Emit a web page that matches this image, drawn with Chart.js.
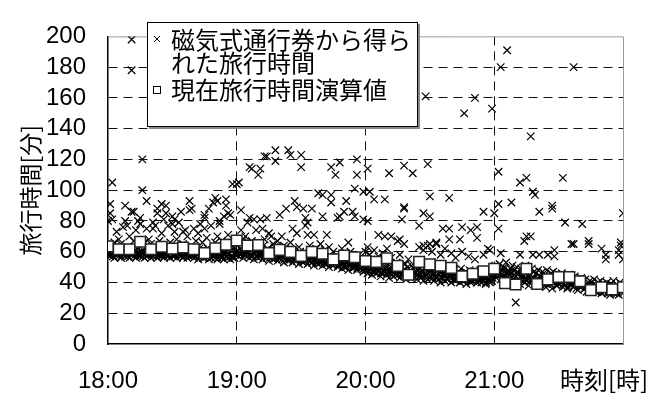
<!DOCTYPE html>
<html lang="ja">
<head>
<meta charset="UTF-8">
<title>旅行時間</title>
<style>
  body { margin: 0; background: #fff; }
  canvas { display: block; }
</style>
</head>
<body>
<canvas id="myChart" width="667" height="394"></canvas>
<script src="https://cdn.jsdelivr.net/npm/chart.js@4/dist/chart.umd.min.js"></script>
<script>
// x = 18:00 からの経過分
const hourTicks = ['18:00', '19:00', '20:00', '21:00', '']

// 現在旅行時間演算値 (5分ごと)
const squareMin = [0,5,10,15,20,25,30,35,40,45,50,55,60,65,70,75,80,85,90,95,100,105,110,115,120,125,130,135,140,145,150,155,160,165,170,175,180,185,190,195,200,205,210,215,220,225,230,235,240]
const squareVal = [63.5,61.6,61.6,66.5,61.6,63.2,62.0,62.7,61.6,59.1,62.3,64.5,
  67.3,64.0,64.4,59.1,61.2,59.9,57.3,59.9,58.7,55.0,57.5,56.4,
  54.0,53.4,55.8,50.8,45.0,53.4,51.8,50.9,49.5,44.0,45.7,47.3,
  48.9,39.6,38.7,48.9,39.0,42.0,43.6,43.6,40.8,35.0,36.9,35.5,36.9]

// 磁気式通行券から得られた旅行時間 — 密な帯 (1分ごと, 3層)
const low18 = [58,57,59,56,58,57,56,58,57,59,56,58,57,56,58,57,59,56,57,58,56,57,59,56,58,57,56,58,57,56,58,57,56,58,57,56,58,56,57,58,56,57,55,57,58,56,57,55,56,58,56,55,57,56,55,57,56,55,57,56]
const bot18 = [59,58,57,60,58,59,57,58,60,57,59,58,60,57,59,58,57,59,58,60,58,59,57,58,60,58,57,59,58,59,57,58,60,59,58,57,59,58,60,57,58,59,57,58,56,59,58,57,59,57,58,56,58,57,59,57,58,57,56,58]
const mid18 = [61,60,62,60,63,61,60,62,61,63,60,62,61,59,62,60,61,63,60,62,61,60,62,59,61,63,60,62,61,60,62,61,59,62,60,61,63,60,62,60,61,59,62,60,61,60,62,59,61,60,62,60,59,61,60,62,59,61,63,60]
const low19 = [58,57,59,56,58,57,56,58,55,57,56,58,55,57,56,54,57,55,56,54,56,55,53,56,54,55,53,55,54,52,54,53,55,52,54,53,51,53,52,54,51,53,52,50,52,51,53,50,52,49,51,50,48,51,49,50,48,50,49,47]
const bot19 = [60,59,61,58,60,59,61,57,59,60,58,57,59,58,60,56,58,57,59,56,58,57,55,58,56,57,55,58,56,57,55,54,57,55,56,53,55,54,56,53,55,52,54,53,55,52,54,51,53,52,50,53,51,52,50,51,49,52,50,49]
const mid19 = [64,62,66,63,61,65,62,64,61,63,60,62,64,60,62,59,61,63,59,61,60,58,62,59,60,58,61,57,59,60,58,56,59,57,58,56,58,55,57,56,58,55,57,54,56,55,57,54,56,53,55,54,56,52,55,53,54,52,54,53]
const low20 = [48,46,49,45,47,46,48,44,46,47,45,43,46,44,45,47,43,45,44,42,45,43,44,46,42,44,43,41,44,42,43,45,41,43,42,40,43,41,42,44,40,42,41,43,40,42,41,39,42,40,41,43,40,42,40,41,39,42,40,41]
const bot20 = [50,48,51,47,49,48,50,46,48,49,47,46,48,47,49,45,47,46,48,45,47,44,46,47,45,46,44,47,45,46,44,43,46,44,45,43,45,44,42,45,43,44,42,45,43,41,44,42,43,41,43,42,44,41,42,43,40,42,41,43]
const mid20 = [53,51,55,50,52,54,51,49,53,50,52,48,51,50,53,49,51,48,52,50,47,51,49,50,48,52,47,49,51,48,50,46,49,48,47,50,46,48,49,47,45,48,46,47,49,45,47,46,48,44,47,46,45,48,44,46,47,45,44,46]
const low21 = [45,43,46,42,44,41,43,45,40,42,44,41,39,43,40,42,38,41,43,39,40,42,38,40,37,41,39,36,40,38,39,41,37,38,36,40,38,37,39,35,37,38,36,34,37,35,36,38,34,36,33,35,37,34,32,35,33,34,32,35,33]
const bot21 = [48,46,47,45,48,44,46,47,43,45,46,42,44,45,43,41,44,42,43,40,42,44,41,42,39,43,41,40,42,38,41,40,39,41,37,39,40,38,36,39,37,38,36,38,35,37,36,34,37,35,36,34,36,33,35,34,36,33,35,34,36]
const mid21 = [51,49,52,48,50,53,47,49,51,48,50,46,49,47,51,48,45,49,47,46,48,44,47,45,48,43,46,47,44,45,43,46,44,42,45,43,41,44,42,40,43,41,42,39,41,40,42,38,40,41,39,37,40,38,39,41,37,38,40,39,37]

// 帯から外れた点 [分, 旅行時間]
const extra18 = [[0,80],[1,91],[1,85],[2,81],[2,105],[4,73],[7,76],[8,90],[8,80],[9,77],[10,70],[11,86],[11,198],[11,178],[12,86],[13,74],[14,80],[15,82],[15,78],[16,120],[16,100],[18,93],[18,75],[19,68],[21,79],[21,75],[22,77],[23,88],[23,85],[25,91],[25,72],[26,81],[27,85],[27,90],[28,77],[30,78],[30,83],[31,81],[31,73],[33,79],[34,86],[35,73],[36,74],[37,70],[38,93],[38,87],[39,88],[40,75],[42,72],[43,78],[45,84],[45,82],[45,75],[47,88],[48,77],[49,92],[50,95],[51,70],[51,93],[52,80],[52,78],[54,83],[55,94],[55,90],[56,85],[56,71],[57,84],[58,66],[58,104],
  [3,66],[5,68],[6,65],[12,67],[17,66],[20,65],[24,67],[29,66],[32,68],[35,65],[41,67],[44,66],[46,69],[50,66],[53,67],[57,65]]
const extra19 = [[60,104],[61,105],[62,87],[62,74],[65,79],[66,82],[66,115],[67,114],[68,81],[69,74],[70,110],[71,81],[71,114],[72,75],[73,122],[74,82],[74,122],[75,72],[76,70],[78,119],[78,126],[80,84],[81,70],[83,88],[84,126],[85,123],[86,75],[87,93],[88,89],[88,72],[90,123],[90,115],[91,88],[92,82],[92,77],[93,79],[93,71],[95,88],[96,71],[98,98],[100,97],[100,83],[102,71],[104,92],[104,97],[104,115],[106,110],[107,82],[108,83],[108,118],[110,86],[111,93],[112,66],[114,86],[115,101],[115,83],[116,120],[116,110],[119,81],[119,99],
  [63,68],[64,70],[67,67],[70,66],[73,68],[77,65],[79,67],[82,64],[85,66],[89,63],[94,64],[97,62],[99,65],[101,61],[103,63],[105,60],[109,62],[113,60],[117,58]]
const extra20 = [[121,114],[122,99],[124,94],[126,71],[129,94],[129,70],[131,111],[132,70],[135,67],[136,68],[137,81],[138,116],[138,89],[138,88],[138,65],[142,111],[145,77],[147,85],[147,64],[149,117],[150,83],[150,96],[150,65],[153,66],[156,75],[159,95],[159,75],[159,68],[164,68],[165,76],[169,74],[172,76],[172,69],[175,86],[177,62],[121,80],[148,161],[166,150],[171,160],[179,153],
  [120,60],[121,63],[122,58],[124,61],[126,57],[128,59],[130,62],[132,56],[136,58],[140,55],[145,63],[147,61],[149,64],[151,60],[153,65],[155,58],[157,62],[160,59],[162,56],[165,60],[168,57],[171,55],[175,58],[178,61]]
const extra21 = [[180,85],[182,112],[182,75],[182,91],[183,59],[183,180],[186,191],[188,92],[190,27],[192,105],[192,58],[194,67],[195,108],[195,70],[197,70],[197,135],[198,99],[199,97],[198,58],[201,86],[201,58],[205,58],[207,88],[208,57],[208,61],[212,108],[213,79],[216,65],[217,65],[217,180],[221,78],[224,67],[224,65],[230,62],[232,58],[232,55],[239,66],[239,64],[238,61],[238,58],[240,85],[240,55],[207,90]]

const jpFont = '"Noto Sans CJK JP", sans-serif'
const numFont = '"Liberation Sans", Arial, sans-serif'

// 点データを組み立てる (層ごとに少しずらす)
const crossPoints = []
const bands = [[0, low18], [0.25, bot18], [0.5, mid18], [60, low19], [60.25, bot19], [60.5, mid19],
  [120, low20], [120.25, bot20], [120.5, mid20], [180, low21], [180.25, bot21], [180.5, mid21]]
for (const [start, vals] of bands) {
  vals.forEach((v, i) => crossPoints.push({ x: Math.min(start + i, 240), y: v }))
}
for (const list of [extra18, extra19, extra20, extra21]) {
  for (const p of list) crossPoints.push({ x: p[0], y: p[1] })
}
const squarePoints = squareMin.map((m, i) => ({ x: m, y: squareVal[i] }))

const frameAndLegend = {
  id: 'frameAndLegend',
  beforeDatasetsDraw(chart) {
    const { ctx, chartArea: a } = chart
    ctx.save()
    ctx.strokeStyle = '#999'
    ctx.lineWidth = 1
    ctx.beginPath()
    ctx.moveTo(a.left, a.top + 0.5)
    ctx.lineTo(a.right + 0.5, a.top + 0.5)
    ctx.lineTo(a.right + 0.5, a.bottom)
    ctx.stroke()
    ctx.restore()
  },
  afterDraw(chart) {
    const ctx = chart.ctx
    ctx.save()
    // 凡例の枠
    ctx.fillStyle = '#888'
    ctx.fillRect(149, 24, 271, 105)
    ctx.fillStyle = '#fff'
    ctx.fillRect(147, 22, 271, 105)
    ctx.strokeStyle = '#000'
    ctx.lineWidth = 1
    ctx.strokeRect(147.5, 22.5, 270, 104)
    // × 記号
    ctx.beginPath()
    ctx.moveTo(154, 36); ctx.lineTo(160, 42)
    ctx.moveTo(160, 36); ctx.lineTo(154, 42)
    ctx.stroke()
    // □ 記号
    ctx.strokeRect(153.5, 86.5, 7, 7)
    ctx.fillStyle = '#000'
    ctx.font = '24px ' + jpFont
    ctx.textBaseline = 'middle'
    ctx.textAlign = 'left'
    ctx.fillText('磁気式通行券から得ら', 171, 40)
    ctx.fillText('れた旅行時間', 171, 63)
    ctx.fillText('現在旅行時間演算値', 171, 90)
    // x 軸の名前
    ctx.textAlign = 'center'
    ctx.fillText('時刻[時]', 604, 380)
    ctx.restore()
  }
}

const ctx = document.querySelector('#myChart').getContext('2d')
const chart = new Chart(ctx, {
  type: 'scatter',
  data: {
    datasets: [{
      label: '現在旅行時間演算値',
      data: squarePoints,
      pointStyle: 'rect',
      pointRadius: 7.5,
      pointHoverRadius: 7.5,
      backgroundColor: '#fff',
      borderColor: '#222',
      borderWidth: 1.5
    }, {
      label: '磁気式通行券から得られた旅行時間',
      data: crossPoints,
      pointStyle: 'crossRot',
      pointRadius: 5.3,
      pointHoverRadius: 5.3,
      borderColor: '#000',
      borderWidth: 1.2
    }]
  },
  options: {
    responsive: false,
    animation: false,
    devicePixelRatio: 1,
    layout: { padding: { left: 0, top: 17, right: 44, bottom: 0 } },
    plugins: { legend: { display: false }, tooltip: { enabled: false } },
    scales: {
      x: {
        type: 'linear',
        min: 0,
        max: 240,
        afterFit(scale) { scale.height = 50 },
        ticks: {
          stepSize: 60,
          padding: 23,
          maxRotation: 0,
          autoSkip: false,
          color: '#000',
          font: { family: numFont, size: 24 },
          callback: (v) => hourTicks[v / 60]
        },
        grid: {
          drawTicks: false,
          color: (c) => (c.tick && (c.tick.value === 0 || c.tick.value === 240)) ? 'rgba(0,0,0,0)' : '#111',
          lineWidth: 1
        },
        border: { display: true, color: '#000', width: 1.5, dash: [9, 6] }
      },
      y: {
        min: 0,
        max: 200,
        afterFit(scale) { scale.width = 108 },
        ticks: {
          stepSize: 20,
          padding: 22,
          autoSkip: false,
          color: '#000',
          font: { family: numFont, size: 24 }
        },
        grid: {
          drawTicks: false,
          color: (c) => (c.tick && (c.tick.value === 0 || c.tick.value === 200)) ? 'rgba(0,0,0,0)' : '#111',
          lineWidth: 1
        },
        border: { display: true, color: '#000', width: 1.5, dash: [9, 6] },
        title: {
          display: true,
          text: '旅行時間[分]',
          color: '#000',
          font: { family: jpFont, size: 23 },
          padding: { top: 16, bottom: 0 }
        }
      }
    }
  },
  plugins: [frameAndLegend]
})
</script>
</body>
</html>
